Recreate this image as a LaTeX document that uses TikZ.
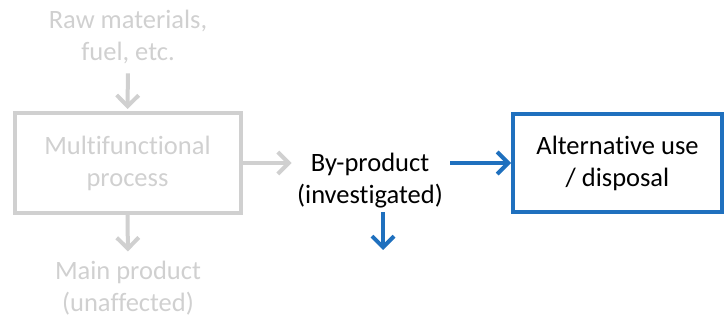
\documentclass[tikz,border=0pt]{standalone}
\usepackage{fontspec}
\setmainfont[Ligatures=NoCommon]{Carlito}
\usetikzlibrary{arrows.meta}
\definecolor{paleGray}{RGB}{208,208,208}
\definecolor{flowBlue}{RGB}{31,112,190}
\begin{document}
\begin{tikzpicture}
[x=1pt, y=-1pt, font=\fontsize{26.5}{32}\selectfont,
 grayline/.style={draw=paleGray, line width=4pt},
 blueline/.style={draw=flowBlue, line width=4pt},
 arr/.style={-{Straight Barb[length=11pt, width=22pt]}}]
\useasboundingbox (0,0) rectangle (725,320);
\node [text=paleGray, align=center] (raw) at (128,37) {Raw materials,\\fuel, etc.};
\node [grayline, text=paleGray, align=center, minimum width=226pt, minimum height=100pt] (proc) at (127.5,163) {Multifunctional\\process};
\node [text=paleGray, align=center] (main) at (128,288) {Main product\\(unaffected)};
\node [align=center] (byp) at (370,181) {By-product\\(investigated)};
\node [blueline, align=center, minimum width=209pt, minimum height=98pt] (alt) at (617.5,163) {Alternative use\\/ disposal};
\coordinate (out) at (383,250);
\draw [grayline, arr, shorten <=6pt, shorten >=2pt] (raw.south) -- (proc.north);
\draw [grayline, arr, shorten >=6pt] (proc.south) -- (main.north);
\draw [grayline, arr, shorten >=2pt] (proc.east) -- (proc.east -| byp.west);
\draw [blueline, arr, shorten <=4pt] (byp.east |- alt.west) -- (alt.west);
\draw [blueline, arr] (out |- byp.south) -- (out);
\end{tikzpicture}
\end{document}
